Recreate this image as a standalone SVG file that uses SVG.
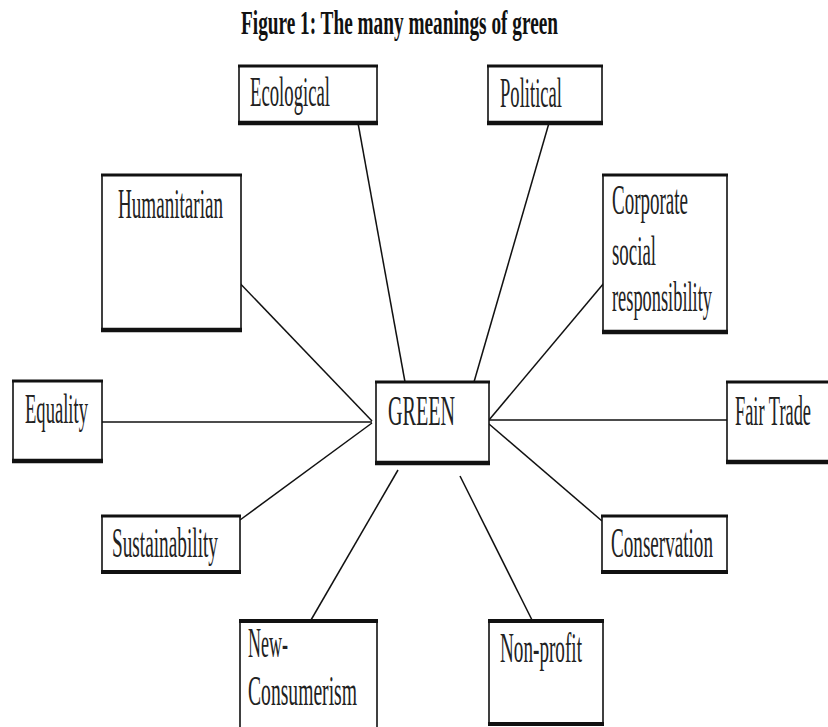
<svg xmlns="http://www.w3.org/2000/svg" width="828" height="727" viewBox="0 0 828 727">
<style>
.box{fill:#fff;stroke:#111;stroke-width:1.6}
.edge{stroke:#111;stroke-linecap:butt}
.t{font-family:"Liberation Serif","Times New Roman",serif;font-size:42px;fill:#222}
.title{font-family:"Liberation Serif","Times New Roman",serif;font-size:33px;font-weight:bold;fill:#111}
.conn line{stroke:#111;stroke-width:1.5}
</style>
<rect width="828" height="727" fill="#fff"/>
<text class="title" x="241" y="34" textLength="317" lengthAdjust="spacingAndGlyphs">Figure 1: The many meanings of green</text>
<g id="connectors" class="conn">
<line x1="358" y1="123" x2="405" y2="382"/>
<line x1="549" y1="123" x2="474" y2="382"/>
<line x1="232" y1="275" x2="372" y2="421"/>
<line x1="604" y1="283" x2="489" y2="420"/>
<line x1="92" y1="422" x2="372" y2="422"/>
<line x1="489" y1="420" x2="727" y2="420"/>
<line x1="240" y1="520" x2="372" y2="423"/>
<line x1="602" y1="521" x2="489" y2="424"/>
<line x1="398" y1="470" x2="311" y2="620"/>
<line x1="460" y1="476" x2="532" y2="620"/>
</g>
<g id="ecological">
<rect class="box" x="239" y="66" width="138" height="57"/>
<line class="edge" x1="238" y1="66" x2="378" y2="66" stroke-width="3"/>
<line class="edge" x1="238" y1="123" x2="378" y2="123" stroke-width="4.5"/>
<text class="t" x="250" y="106" textLength="80" lengthAdjust="spacingAndGlyphs">Ecological</text>
</g>
<g id="political">
<rect class="box" x="488" y="66" width="114" height="57"/>
<line class="edge" x1="487" y1="66" x2="603" y2="66" stroke-width="3"/>
<line class="edge" x1="487" y1="123" x2="603" y2="123" stroke-width="4.5"/>
<text class="t" x="500" y="107" textLength="62" lengthAdjust="spacingAndGlyphs">Political</text>
</g>
<g id="humanitarian">
<rect class="box" x="102" y="175" width="139" height="155"/>
<line class="edge" x1="101" y1="175" x2="242" y2="175" stroke-width="3"/>
<line class="edge" x1="101" y1="330" x2="242" y2="330" stroke-width="4.5"/>
<text class="t" x="118" y="218" textLength="105" lengthAdjust="spacingAndGlyphs">Humanitarian</text>
</g>
<g id="csr">
<rect class="box" x="603" y="175" width="124" height="157"/>
<line class="edge" x1="602" y1="175" x2="728" y2="175" stroke-width="3"/>
<line class="edge" x1="602" y1="332" x2="728" y2="332" stroke-width="4.5"/>
<text class="t" x="612" y="214" textLength="76" lengthAdjust="spacingAndGlyphs">Corporate</text>
<text class="t" x="612" y="265" textLength="44" lengthAdjust="spacingAndGlyphs">social</text>
<text class="t" x="612" y="311" textLength="100" lengthAdjust="spacingAndGlyphs">responsibility</text>
</g>
<g id="equality">
<rect class="box" x="13" y="381" width="89" height="80"/>
<line class="edge" x1="12" y1="381" x2="103" y2="381" stroke-width="3"/>
<line class="edge" x1="12" y1="461" x2="103" y2="461" stroke-width="4.5"/>
<text class="t" x="25" y="423" textLength="63" lengthAdjust="spacingAndGlyphs">Equality</text>
</g>
<g id="green">
<rect class="box" x="376" y="382" width="113" height="81"/>
<line class="edge" x1="375" y1="382" x2="490" y2="382" stroke-width="3"/>
<line class="edge" x1="375" y1="463" x2="490" y2="463" stroke-width="4.5"/>
<text class="t" x="388" y="425" textLength="67" lengthAdjust="spacingAndGlyphs">GREEN</text>
</g>
<g id="fairtrade">
<rect class="box" x="727" y="382" width="106" height="80"/>
<line class="edge" x1="726" y1="382" x2="830" y2="382" stroke-width="3"/>
<line class="edge" x1="726" y1="462" x2="830" y2="462" stroke-width="4.5"/>
<text class="t" x="735" y="425" textLength="76" lengthAdjust="spacingAndGlyphs">Fair Trade</text>
</g>
<g id="sustainability">
<rect class="box" x="102" y="516" width="138" height="56"/>
<line class="edge" x1="101" y1="516" x2="241" y2="516" stroke-width="3"/>
<line class="edge" x1="101" y1="572" x2="241" y2="572" stroke-width="4"/>
<text class="t" x="112" y="557" textLength="106" lengthAdjust="spacingAndGlyphs">Sustainability</text>
</g>
<g id="conservation">
<rect class="box" x="602" y="516" width="125" height="56"/>
<line class="edge" x1="601" y1="516" x2="728" y2="516" stroke-width="3"/>
<line class="edge" x1="601" y1="572" x2="728" y2="572" stroke-width="4"/>
<text class="t" x="611" y="557" textLength="102" lengthAdjust="spacingAndGlyphs">Conservation</text>
</g>
<g id="newconsumerism">
<rect class="box" x="240" y="621" width="137" height="115"/>
<line class="edge" x1="239" y1="621" x2="378" y2="621" stroke-width="4"/>
<text class="t" x="248" y="657" textLength="40" lengthAdjust="spacingAndGlyphs">New-</text>
<text class="t" x="248" y="705" textLength="109" lengthAdjust="spacingAndGlyphs">Consumerism</text>
</g>
<g id="nonprofit">
<rect class="box" x="489" y="621" width="114" height="103"/>
<line class="edge" x1="488" y1="621" x2="604" y2="621" stroke-width="4"/>
<line class="edge" x1="488" y1="724" x2="604" y2="724" stroke-width="4"/>
<text class="t" x="500" y="662" textLength="82" lengthAdjust="spacingAndGlyphs">Non-profit</text>
</g>
</svg>
